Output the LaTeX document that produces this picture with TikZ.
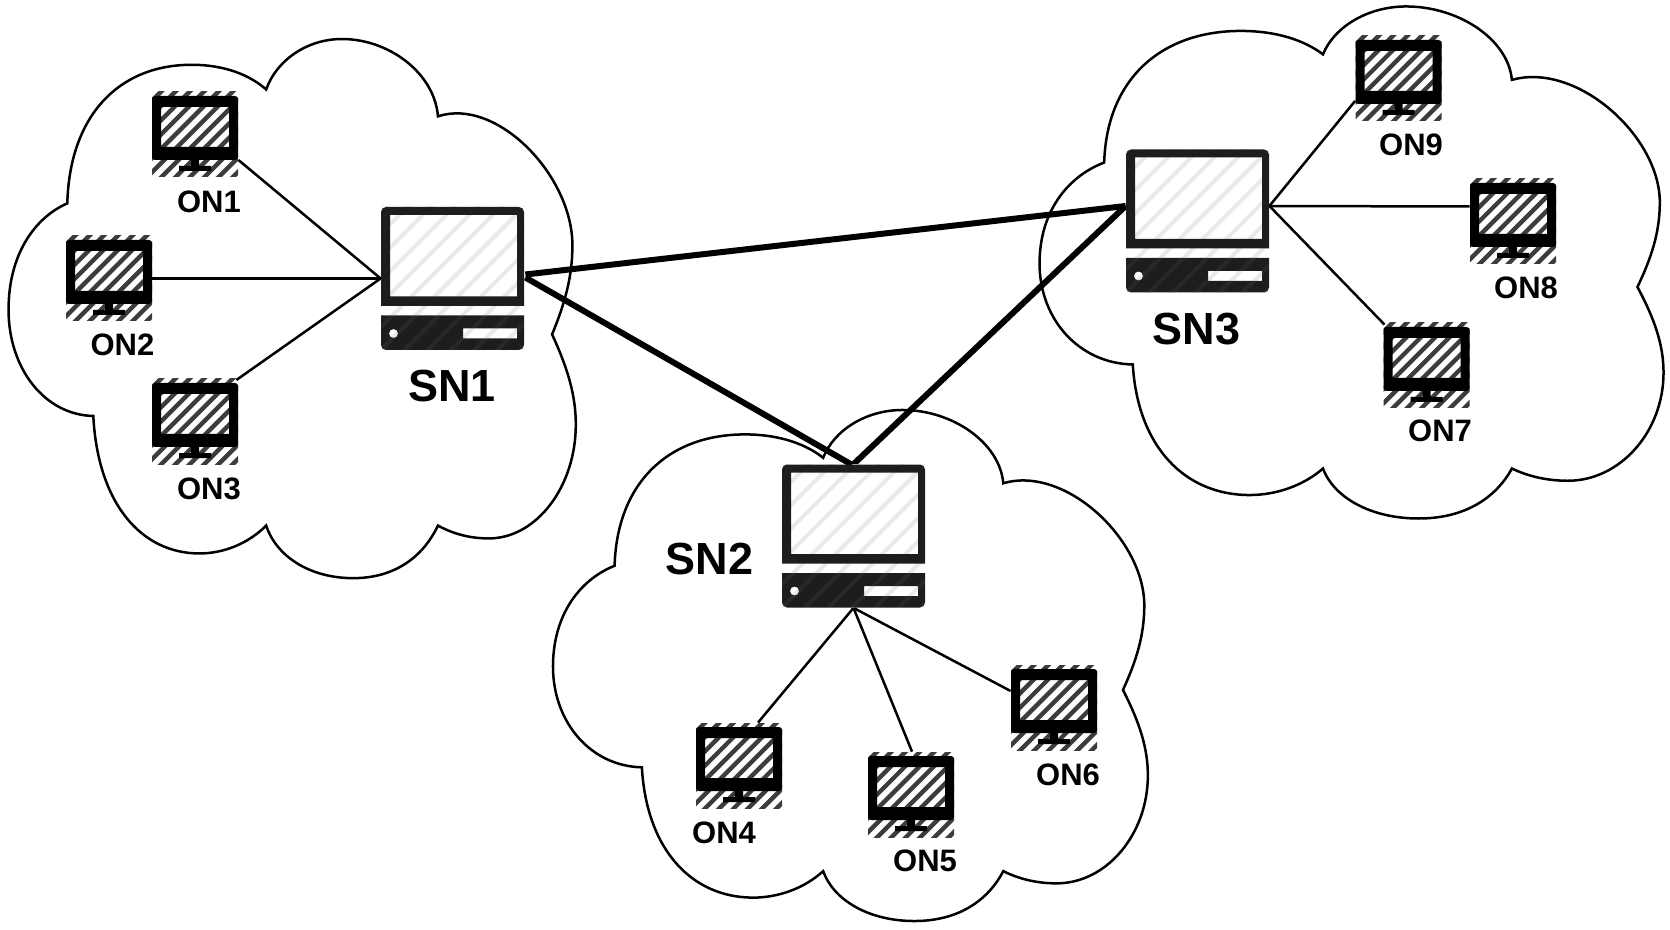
\documentclass[tikz,border=0pt]{standalone}
\usepackage{fontspec}
\setmainfont{Liberation Sans}
\usetikzlibrary{calc}
\definecolor{snblack}{HTML}{1D1D1B}
\definecolor{snstripe}{HTML}{E9E9E9}
\definecolor{onstripe}{HTML}{3C3C3C}
\tikzset{
  cloudline/.style={draw=black,line width=1.25pt},
  thinlink/.style={draw=black,line width=1.25pt},
  thicklink/.style={draw=black,line width=3pt},
  ontag/.style={font=\fontsize{15.5}{18}\selectfont\bfseries,inner sep=0pt},
  sntag/.style={font=\fontsize{22.5}{25}\selectfont\bfseries,inner sep=0pt},
  onbox/.style={minimum width=43pt,minimum height=42.5pt,inner sep=0pt},
  snbox/.style={minimum width=71.5pt,minimum height=71.5pt,inner sep=0pt},
  cloudpic/.pic={
    \draw[cloudline,line join=miter]
      (60,191) .. controls (62,110) and (105,62) .. (170,62)
      .. controls (200,62) and (222,72) .. (236,85)
      .. controls (245,58) and (272,38) .. (303,38)
      .. controls (345,38) and (385,70) .. (388,110)
      .. controls (440,92) and (507,165) .. (507,230)
      .. controls (507,260) and (500,285) .. (489,313)
      .. controls (503,345) and (510,370) .. (510,397)
      .. controls (510,455) and (475,503) .. (433,503)
      .. controls (415,503) and (400,498) .. (388,491)
      .. controls (375,520) and (350,540) .. (313,540)
      .. controls (275,540) and (245,520) .. (236,491)
      .. controls (220,508) and (198,517) .. (177,517)
      .. controls (125,517) and (87,470) .. (83,389)
      .. controls (40,388) and (8,345) .. (8,290)
      .. controls (8,240) and (30,205) .. (60,191) -- cycle;
  },
  onicon/.pic={
    \begin{scope}
      \clip (-43,-42.5) rectangle (43,42.5);
      \foreach \k in {-7,...,7}
        \draw[onstripe,line width=2.2pt] ({\k*14.3+9-90},90) -- ({\k*14.3+9+90},-90);
    \end{scope}
    \fill[black,even odd rule]
      [rounded corners=1.5pt] (-43,-38.5) rectangle (43,25.5)
      [sharp corners] (-34,-27.5) rectangle (34,12.5);
    \fill[black] (-4,25.5) rectangle (4,32) (-16,31.5) rectangle (16,36.5);
  },
  snicon/.pic={
    \begin{scope}
      \clip (-71.5,-71.5) rectangle (71.5,71.5);
      \foreach \k in {-6,...,6}
        \draw[snstripe,line width=2pt] ({\k*23.3-150},150) -- ({\k*23.3+150},-150);
    \end{scope}
    \fill[white] (-71.5,-71.5) -- (-66,-71.5) -- (-71.5,-66) -- cycle
      (71.5,-71.5) -- (66,-71.5) -- (71.5,-66) -- cycle
      (-71.5,71.5) -- (-66,71.5) -- (-71.5,66) -- cycle
      (71.5,71.5) -- (66,71.5) -- (71.5,66) -- cycle;
    \fill[snblack,even odd rule]
      (-71.5,27.5) [rounded corners=2.5pt] -- (-71.5,-71.5) -- (71.5,-71.5) [sharp corners] -- (71.5,27.5) -- cycle
      (-62.5,-63.5) rectangle (64.5,18);
    \fill[snblack,even odd rule]
      (-71.5,37) -- (71.5,37) [rounded corners=2.5pt] -- (71.5,71.5) -- (-71.5,71.5) [sharp corners] -- (-71.5,37) -- cycle
      (10.5,50) rectangle (64.5,60)
      (-59,55) circle[radius=4.5];
    \begin{scope}
      \clip (-71.5,37) rectangle (71.5,71.5);
      \foreach \k in {-6,...,6}
        \draw[white,opacity=.05,line width=2pt] ({\k*23.3-150},150) -- ({\k*23.3+150},-150);
    \end{scope}
  }
}
\begin{document}
\begin{tikzpicture}[x=0.5pt,y=-0.5pt]
\useasboundingbox (0,0) rectangle (1670,930);
% clouds
\begin{scope}[shift={(-0.5,-1.8)},xscale=1.13,yscale=1.074] \pic[transform shape] {cloudpic}; \end{scope}
\begin{scope}[shift={(543.5,371.3)},xscale=1.185,yscale=1.018] \pic[transform shape] {cloudpic}; \end{scope}
\begin{scope}[shift={(1029.6,-32.3)},xscale=1.243,yscale=1.02] \pic[transform shape] {cloudpic}; \end{scope}
% server nodes
\node[snbox] (SN1) at (452.5,278.5) {};
\node[snbox] (SN2) at (853.5,536) {};
\node[snbox] (SN3) at (1197.5,221) {};
% ordinary nodes
\node[onbox] (ON1) at (195,134.5) {};
\node[onbox] (ON2) at (109,278.5) {};
\node[onbox] (ON3) at (195,421.5) {};
\node[onbox] (ON4) at (739,765.5) {};
\node[onbox] (ON5) at (911,794.5) {};
\node[onbox] (ON6) at (1054,707.5) {};
\node[onbox] (ON7) at (1426.5,365.5) {};
\node[onbox] (ON8) at (1513,221.5) {};
\node[onbox] (ON9) at (1398.5,78.5) {};
% links
\draw[thicklink] ($(SN1.east)+(1,-4)$) -- ($(SN3.west)+(0,-15)$);
\draw[thicklink] ($(SN1.east)+(1,-1)$) -- ($(SN2.north)+(-1,1)$);
\draw[thicklink] ($(SN2.north)+(-1,1)$) -- ($(SN3.west)+(0,-15)$);
\draw[thinlink] ($(ON1.east)+(0,25.5)$) -- (SN1.west);
\draw[thinlink] (ON2.east) -- (SN1.west);
\draw[thinlink] ($(ON3.east)+(-2,-41.5)$) -- (SN1.west);
\draw[thinlink] (SN2.south) -- ($(ON4.north)+(19,0)$);
\draw[thinlink] (SN2.south) -- ($(ON5.north)+(1,0)$);
\draw[thinlink] (SN2.south) -- ($(ON6.west)+(0,-16.5)$);
\draw[thinlink] ($(SN3.east)+(0,-15)$) -- ($(ON7.north)+(-42,2)$);
\draw[thinlink] ($(SN3.east)+(0,-15)$) -- ($(ON8.west)+(0,-15)$);
\draw[thinlink] ($(SN3.east)+(0,-15)$) -- ($(ON9.west)+(0,22.5)$);
% icons
\foreach \n in {SN1,SN2,SN3} \pic at (\n.center) {snicon};
\foreach \n in {ON1,ON2,ON3,ON4,ON5,ON6,ON7,ON8,ON9} \pic at (\n.center) {onicon};
% labels
\node[ontag] (tON1) at (209,202) {ON1};
\node[ontag] (tON2) at (122.5,345) {ON2};
\node[ontag] (tON3) at (209,489) {ON3};
\node[ontag] (tON4) at (724,833) {ON4};
\node[ontag] (tON5) at (925,860.5) {ON5};
\node[ontag] (tON6) at (1068,775) {ON6};
\node[ontag] (tON7) at (1440,431) {ON7};
\node[ontag] (tON8) at (1526,288) {ON8};
\node[ontag] (tON9) at (1411,145) {ON9};
\node[sntag] (tSN1) at (452,386.5) {SN1};
\node[sntag] (tSN2) at (709.5,559) {SN2};
\node[sntag] (tSN3) at (1196.5,329) {SN3};
\end{tikzpicture}
\end{document}
